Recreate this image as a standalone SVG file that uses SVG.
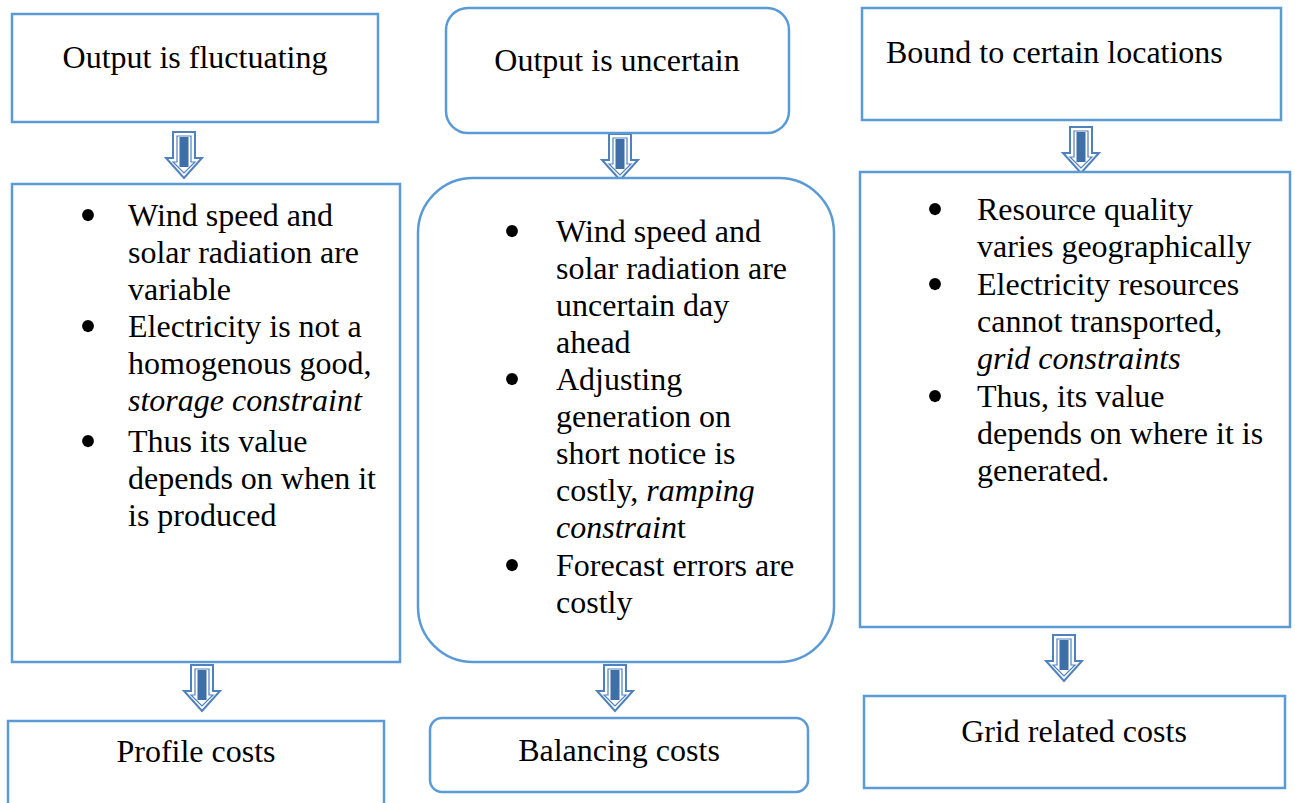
<svg xmlns="http://www.w3.org/2000/svg" xmlns:xlink="http://www.w3.org/1999/xlink" width="1295" height="803" viewBox="0 0 1295 803">
<style>
.box{fill:#fff;stroke:#5b9bd5;stroke-width:2.5}
.t{font-family:"Liberation Serif","Times New Roman",serif;font-size:32px;fill:#000}
.c{text-anchor:middle}
.i{font-style:italic}
.b{font-family:"Liberation Serif","Times New Roman",serif;font-size:50px;text-anchor:middle;fill:#000}
.ao{fill:#fff;stroke:#4f81bd;stroke-width:2}
.ai{fill:#fff;stroke:#4f81bd;stroke-width:1.2}
.as{fill:#3e6fa6}
</style>
<defs>
<g id="arr">
<path class="ao" d="M-11,0 H11 V26 H18 L0,46 L-18,26 H-11 Z"/>
<path class="ai" d="M-7,4 H7 V30 H11 L0,41 L-11,30 H-7 Z"/>
<rect class="as" x="-4.5" y="5" width="9" height="30"/>
</g>
</defs>
<rect width="1295" height="803" fill="#fff"/>
<g id="connectors">
<use xlink:href="#arr" x="184" y="132"/>
<use xlink:href="#arr" x="620" y="134"/>
<use xlink:href="#arr" x="1081" y="127"/>
<use xlink:href="#arr" x="202" y="665"/>
<use xlink:href="#arr" x="615" y="665"/>
<use xlink:href="#arr" x="1064" y="635"/>
</g>
<g id="n1">
<rect class="box" x="12" y="14" width="366" height="108"/>
<text class="t c" x="195" y="68">Output is fluctuating</text>
</g>
<g id="n2">
<rect class="box" x="446" y="8" width="343" height="125" rx="22"/>
<text class="t c" x="617" y="71">Output is uncertain</text>
</g>
<g id="n3">
<rect class="box" x="862" y="8" width="419" height="112"/>
<text class="t" x="886" y="63">Bound to certain locations</text>
</g>
<g id="n4">
<rect class="box" x="12" y="184" width="388" height="478"/>
<text class="b" x="88" y="232">•</text>
<text class="b" x="88" y="343">•</text>
<text class="b" x="88" y="458">•</text>
<g class="t">
<text x="128" y="226">Wind speed and</text>
<text x="128" y="263">solar radiation are</text>
<text x="128" y="300">variable</text>
<text x="128" y="337">Electricity is not a</text>
<text x="128" y="374">homogenous good,</text>
<text x="128" y="411" class="i">storage constraint</text>
<text x="128" y="452">Thus its value</text>
<text x="128" y="489">depends on when it</text>
<text x="128" y="526">is produced</text>
</g>
</g>
<g id="n5">
<rect class="box" x="418" y="178" width="416" height="484" rx="55"/>
<text class="b" x="512" y="248">•</text>
<text class="b" x="512" y="396">•</text>
<text class="b" x="512" y="582">•</text>
<g class="t">
<text x="556" y="242">Wind speed and</text>
<text x="556" y="279">solar radiation are</text>
<text x="556" y="316">uncertain day</text>
<text x="556" y="353">ahead</text>
<text x="556" y="390">Adjusting</text>
<text x="556" y="427">generation on</text>
<text x="556" y="464">short notice is</text>
<text x="556" y="501">costly, <tspan class="i">ramping</tspan></text>
<text x="556" y="538"><tspan class="i">constrain</tspan>t</text>
<text x="556" y="576">Forecast errors are</text>
<text x="556" y="613">costly</text>
</g>
</g>
<g id="n6">
<rect class="box" x="860" y="172" width="430" height="455"/>
<text class="b" x="935" y="226">•</text>
<text class="b" x="935" y="301">•</text>
<text class="b" x="935" y="413">•</text>
<g class="t">
<text x="977" y="220">Resource quality</text>
<text x="977" y="257">varies geographically</text>
<text x="977" y="295">Electricity resources</text>
<text x="977" y="332">cannot transported,</text>
<text x="977" y="369" class="i">grid constraints</text>
<text x="977" y="407">Thus, its value</text>
<text x="977" y="444">depends on where it is</text>
<text x="977" y="481">generated.</text>
</g>
</g>
<g id="n7">
<rect class="box" x="8" y="721" width="376" height="100"/>
<text class="t c" x="196" y="762">Profile costs</text>
</g>
<g id="n8">
<rect class="box" x="430" y="718" width="378" height="74" rx="12"/>
<text class="t c" x="619" y="761">Balancing costs</text>
</g>
<g id="n9">
<rect class="box" x="864" y="696" width="421" height="92"/>
<text class="t c" x="1074" y="742">Grid related costs</text>
</g>
</svg>
